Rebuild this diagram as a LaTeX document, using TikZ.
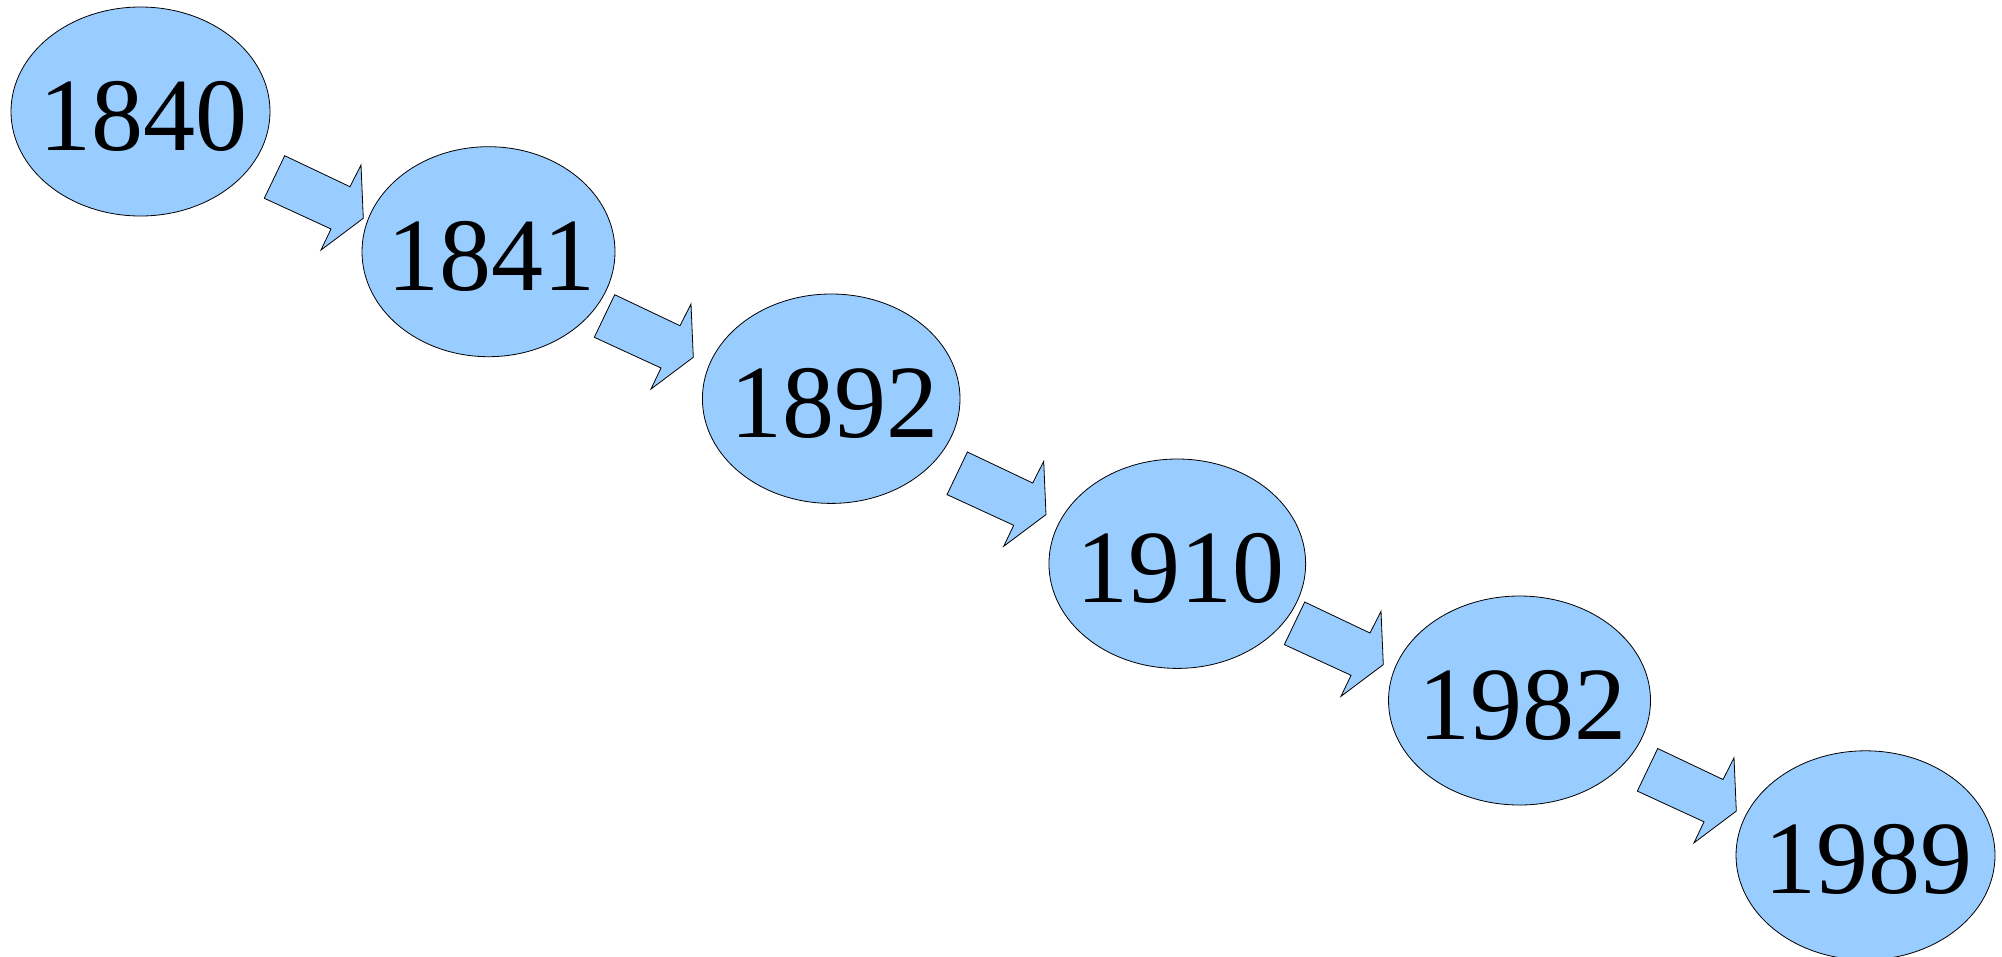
\documentclass[tikz,border=0pt]{standalone}
\usepackage{fontspec}
\setmainfont{Liberation Serif}
\usetikzlibrary{shapes.geometric}
\definecolor{yearblue}{HTML}{99CCFF}
\tikzset{
  year/.style={ellipse, draw=black, line width=0.8pt, fill=yearblue, inner sep=0pt},
  yeartext/.style={inner sep=0pt, text height=77pt, text depth=0pt, xshift=3pt,
    font=\fontsize{104}{104}\selectfont},
  blockarrow/.style={draw=black, line width=0.8pt, fill=yearblue, line join=miter},
}
\begin{document}
\begin{tikzpicture}[x=1pt,y=-1pt]
\useasboundingbox (0,0) rectangle (2002,956);
\node[year, minimum width=259pt, minimum height=209pt] (y1840) at (140.5,111.5) {};
\node[year, minimum width=253pt, minimum height=210pt] (y1841) at (488.5,251.7) {};
\node[year, minimum width=257.6pt, minimum height=209.4pt] (y1892) at (831.2,398.7) {};
\node[year, minimum width=256.7pt, minimum height=209.4pt] (y1910) at (1177.3,563.7) {};
\node[year, minimum width=262pt, minimum height=209pt] (y1982) at (1519.5,700.5) {};
\node[year, minimum width=259pt, minimum height=209pt] (y1989) at (1865.5,855.3) {};
\node[yeartext] (t1840) at (y1840.center) {1840};
\node[yeartext] (t1841) at (y1841.center) {1841};
\node[yeartext] (t1892) at (y1892.center) {1892};
\node[yeartext] (t1910) at (y1910.center) {1910};
\node[yeartext] (t1982) at (y1982.center) {1982};
\node[yeartext] (t1989) at (y1989.center) {1989};
\foreach \dx/\dy in {0/0, 330/139, 682.7/296.3, 1020/446.3, 1373/592.8}
  \draw[blockarrow, shift={(\dx,\dy)}] (284.7,155.7) -- (350,186.7) -- (361,165)
    -- (363.3,218.3) -- (321,250) -- (331,229) -- (264.3,198.3) -- cycle;
\end{tikzpicture}
\end{document}
